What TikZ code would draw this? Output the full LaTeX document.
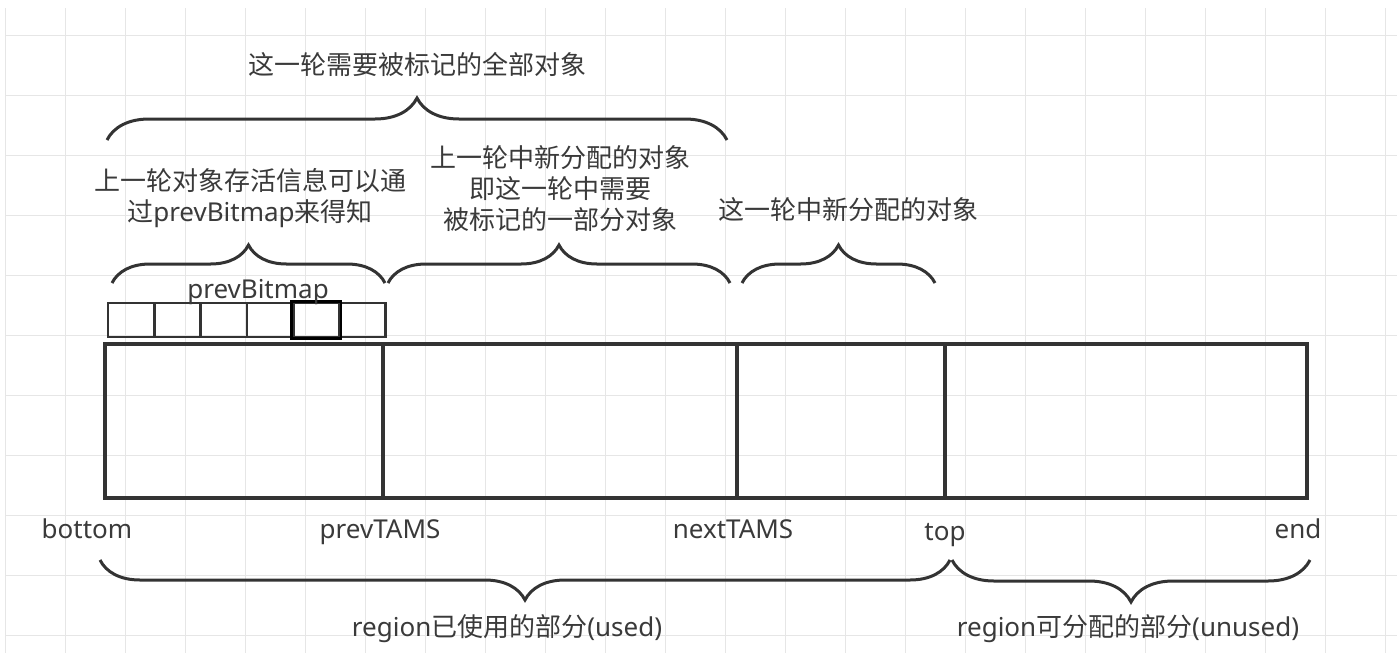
\documentclass[tikz,border=0pt]{standalone}
\usepackage{fontspec}
\setmainfont{Noto Sans}
\newfontfamily\zhfont{Noto Sans CJK SC}
\newcommand{\zh}[1]{{\zhfont #1}}
\usetikzlibrary{decorations.pathreplacing,positioning}
\definecolor{linec}{HTML}{333333}
\definecolor{textc}{HTML}{3A3A3A}
\definecolor{gridc}{HTML}{E6E6E6}

\begin{document}
\begin{tikzpicture}[x=1pt,y=-1pt,
   block/.style={draw=linec, line width=3.4pt, minimum height=154pt, inner sep=0pt},
   bit/.style={draw=linec, line width=2.8pt, minimum width=46.3pt, minimum height=34pt, inner sep=0pt},
   txt/.style={text=textc, font=\fontsize{26}{31}\selectfont, align=center, inner sep=0pt},
   curly/.style={draw=linec, line width=3pt, decorate, decoration={brace, amplitude=#1}},
   curly/.default=38]
   \useasboundingbox (0,0) rectangle (1400,670);

   % grid
   \foreach \gx in {5,65,...,1385} \draw[gridc, line width=1pt] (\gx,8) -- (\gx,653);
   \foreach \gy in {35,95,...,635} \draw[gridc, line width=1pt] (5,\gy) -- (1397,\gy);

   % region
   \node (used1) at (244,421) [block, minimum width=278pt] {};
   \node (used2) at (560,421) [block, minimum width=354pt] {};
   \node (used3) at (841,421) [block, minimum width=208pt] {};
   \node (free) at (1126,421) [block, minimum width=362pt] {};

   % prevBitmap
   \foreach \i in {1,...,6}
      \node (bit\i) at ({108+46.3*(\i-0.5)},320) [bit] {};
   \draw[black, line width=2.8pt] (bit5.south west) rectangle (bit5.north east);
   \node (bmname) at (258,298) [txt, anchor=base] {prevBitmap};

   % braces above
   \coordinate (allL) at (107,140);
   \coordinate (allR) at (727,140);
   \coordinate (prevL) at (112,283);
   \coordinate (prevR) at (385,283);
   \coordinate (lastL) at (388,283);
   \coordinate (lastR) at (730,283);
   \coordinate (thisL) at (742,283);
   \coordinate (thisR) at (935,283);
   \draw[curly=42] (allL) -- (allR);
   \draw[curly] (prevL) -- (prevR);
   \draw[curly] (lastL) -- (lastR);
   \draw[curly] (thisL) -- (thisR);

   \node (all) at (417,74) [txt, anchor=base] {\zh{这一轮需要被标记的全部对象}};
   \node (previnfo) at (250,198) [txt] {\zh{上一轮对象存活信息可以通}\\\zh{过}prevBitmap\zh{来得知}};
   \node (lastnew) at (560,189) [txt] {\zh{上一轮中新分配的对象}\\\zh{即这一轮中需要}\\\zh{被标记的一部分对象}};
   \node (thisnew) at (848,219) [txt, anchor=base] {\zh{这一轮中新分配的对象}};

   % pointers
   \node (nbottom) at (87,538) [txt, anchor=base] {bottom};
   \node (nprev) at (380,538) [txt, anchor=base] {prevTAMS};
   \node (nnext) at (733,538) [txt, anchor=base] {nextTAMS};
   \node (ntop) at (945,540) [txt, anchor=base] {top};
   \node (nend) at (1298,538) [txt, anchor=base] {end};

   % braces below
   \coordinate (usedL) at (100,560);
   \coordinate (usedR) at (950,560);
   \coordinate (unusedL) at (952,560);
   \coordinate (unusedR) at (1310,560);
   \draw[curly=40] (usedR) -- (usedL);
   \draw[curly=42] (unusedR) -- (unusedL);

   \node (used) at (507,636) [txt, anchor=base] {region\zh{已使用的部分}(used)};
   \node (unused) at (1128,636) [txt, anchor=base] {region\zh{可分配的部分}(unused)};
\end{tikzpicture}
\end{document}
